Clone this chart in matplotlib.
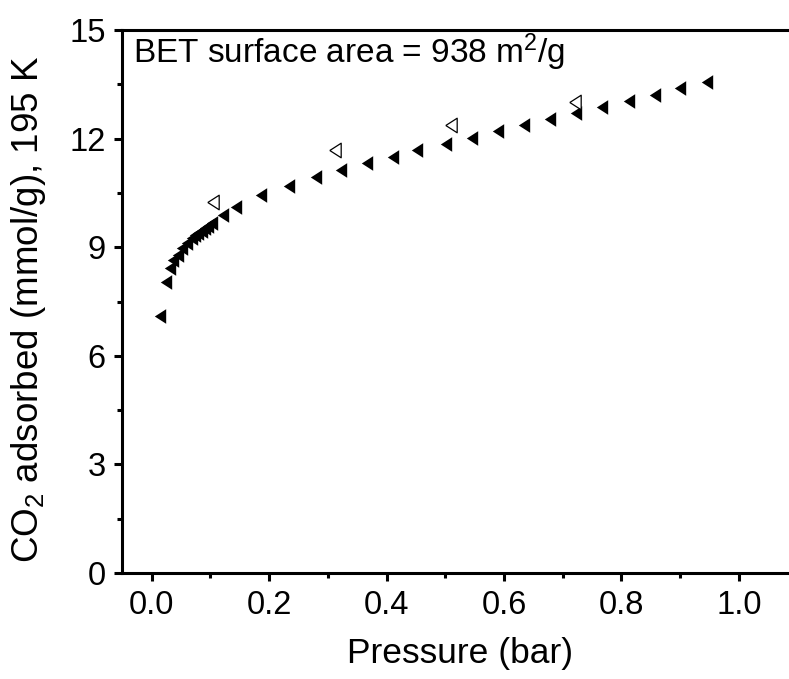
import matplotlib
matplotlib.use("Agg")
import matplotlib.pyplot as plt
from matplotlib.ticker import MultipleLocator

plt.rcParams['font.family'] = ['Liberation Sans', 'DejaVu Sans']
plt.rcParams['mathtext.default'] = 'regular'

# adsorption branch (filled)
ads_p = [0.014, 0.024, 0.031, 0.037, 0.044, 0.051, 0.060, 0.068, 0.074, 0.079,
         0.085, 0.091, 0.096, 0.102, 0.121, 0.143, 0.187, 0.234, 0.280, 0.323,
         0.366, 0.411, 0.451, 0.501, 0.545, 0.590, 0.634, 0.679, 0.722, 0.767,
         0.813, 0.857, 0.900, 0.946]
ads_q = [7.10, 8.05, 8.44, 8.65, 8.80, 8.97, 9.11, 9.25, 9.34, 9.40,
         9.46, 9.52, 9.59, 9.66, 9.89, 10.10, 10.44, 10.70, 10.95, 11.13,
         11.32, 11.50, 11.69, 11.84, 12.03, 12.21, 12.38, 12.54, 12.70, 12.88,
         13.05, 13.22, 13.39, 13.56]

# desorption branch (open)
des_p = [0.105, 0.312, 0.509, 0.720]
des_q = [10.26, 11.69, 12.39, 13.00]

tri = [(-0.78, 0), (0.78, 1), (0.78, -1), (-0.78, 0)]

fig = plt.figure(figsize=(7.89, 6.79), dpi=100)
ax = fig.add_axes([0.155, 0.156, 0.856, 0.7997])

ax.plot(ads_p, ads_q, linestyle='none', marker=tri, markersize=10.5,
        color='black', markeredgewidth=0)
ax.plot(des_p, des_q, linestyle='none', marker=tri, markersize=10.5,
        markerfacecolor='white', markeredgecolor='black', markeredgewidth=0.9)

ax.set_xlim(-0.05, 1.1)
ax.set_ylim(0, 15)
ax.xaxis.set_major_locator(MultipleLocator(0.2))
ax.xaxis.set_minor_locator(MultipleLocator(0.1))
ax.yaxis.set_major_locator(MultipleLocator(3))
ax.yaxis.set_minor_locator(MultipleLocator(1.5))
ax.xaxis.set_major_formatter(matplotlib.ticker.FormatStrFormatter('%.1f'))

for s in ax.spines.values():
    s.set_linewidth(2.2)
ax.tick_params(which='major', direction='out', length=6, width=2.2, labelsize=23.5, pad=6)
ax.tick_params(which='minor', direction='out', length=3.5, width=2.2)

ax.set_xlabel('Pressure (bar)', fontsize=25.5, labelpad=12)
ax.set_ylabel('CO$_2$ adsorbed (mmol/g), 195 K', fontsize=26.5)
ax.yaxis.set_label_coords(-0.11, 0.485)

ax.text(-0.032, 14.4, 'BET surface area = 938 m$^2$/g', fontsize=24,
        ha='left', va='center')

fig.savefig('out.png', dpi=100)
